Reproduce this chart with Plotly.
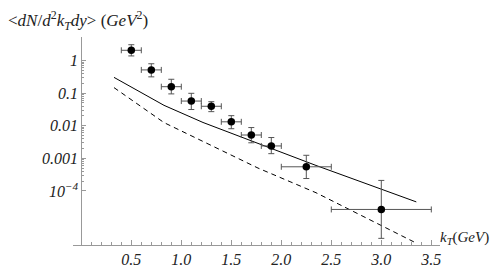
import plotly.graph_objects as go

# Data points
kt = [0.5, 0.7, 0.9, 1.1, 1.3, 1.5, 1.7, 1.9, 2.25, 3.0]
kt_err = [0.1, 0.1, 0.1, 0.1, 0.1, 0.1, 0.1, 0.1, 0.25, 0.5]
dn = [2.07, 0.517, 0.158, 0.0573, 0.0396, 0.0132, 0.0052, 0.0024, 0.00055, 2.7e-5]
dn_hi = [3.07, 0.80, 0.267, 0.099, 0.0548, 0.0204, 0.0088, 0.00435, 0.00124, 2.1e-4]
dn_lo = [1.39, 0.317, 0.095, 0.0315, 0.0271, 0.0081, 0.0030, 0.00139, 0.00024, 3.5e-6]

# Theory curves
curve_kt = [0.327, 0.827, 1.217, 1.767, 2.347, 3.35]
solid_vals = [0.305, 0.0423, 0.0126, 0.00283, 0.000605, 4.6e-5]
dashed_vals = [0.148, 0.0125, 0.0033, 0.000503, 8.8e-5, 2.5e-6]

# Tick labels
x_ticks = [0.5, 1.0, 1.5, 2.0, 2.5, 3.0, 3.5]
x_ticktext = ["<i>0.5</i>", "<i>1.0</i>", "<i>1.5</i>", "<i>2.0</i>", "<i>2.5</i>", "<i>3.0</i>", "<i>3.5</i>"]
y_ticks = [1e-4, 1e-3, 1e-2, 1e-1, 1]
y_ticktext = ["<i>10<sup>\u22124</sup></i>", "<i>0.001</i>", "<i>0.01</i>", "<i>0.1</i>", "<i>1</i>"]

err_plus = [h - v for h, v in zip(dn_hi, dn)]
err_minus = [v - l for v, l in zip(dn, dn_lo)]

y_minor = [m * 10.0 ** e for e in range(-4, 0) for m in range(2, 10)]
x_minor = [round(0.1 * i, 1) for i in range(0, 36)]

serif = "Liberation Serif"
fig = go.Figure()
fig.add_trace(go.Scatter(x=curve_kt, y=solid_vals, mode="lines",
                         line=dict(color="black", width=1), showlegend=False))
fig.add_trace(go.Scatter(x=curve_kt, y=dashed_vals, mode="lines",
                         line=dict(color="black", width=1, dash="5px,4px"), showlegend=False))
fig.add_trace(go.Scatter(
    x=kt, y=dn, mode="markers",
    marker=dict(color="black", size=7.5),
    error_y=dict(type="data", symmetric=False, array=err_plus, arrayminus=err_minus,
                 color="#555555", thickness=1, width=3),
    error_x=dict(type="data", array=kt_err, color="#555555", thickness=1, width=3),
    showlegend=False))

xmin, xmax = -0.083, 3.587
PW, PH = 367, 223
fig.update_layout(
    width=501, height=272,
    margin=dict(l=65, r=69, t=29, b=20),
    paper_bgcolor="white", plot_bgcolor="white",
    font=dict(family=serif, size=16, color="#222222"),
    xaxis=dict(range=[xmin, xmax], showgrid=False, zeroline=False,
               showline=True, linecolor="#999999", linewidth=1,
               tickmode="array", tickvals=x_ticks, ticktext=x_ticktext,
               ticks="inside", ticklen=5, tickcolor="#999999",
               tickfont=dict(family=serif, size=16),
               minor=dict(tickvals=x_minor, ticks="inside", ticklen=3,
                          tickcolor="#999999", showgrid=False)),
    yaxis=dict(type="log", range=[-5.66, 0.724], showgrid=False, zeroline=False,
               anchor="free", position=(0 - xmin) / (xmax - xmin),
               showline=True, linecolor="#999999", linewidth=1,
               tickmode="array", tickvals=y_ticks, ticktext=y_ticktext,
               ticks="inside", ticklen=4, tickcolor="#999999",
               tickfont=dict(family=serif, size=16),
               minor=dict(tickvals=y_minor, ticks="inside", ticklen=2,
                          tickcolor="#999999", showgrid=False)),
    annotations=[
        dict(text="&lt;<i>dN</i>/<i>d</i><sup>2</sup><i>k</i><sub><i>T</i></sub><i>dy</i>&gt; (<i>GeV</i><sup>2</sup>)",
             xref="paper", yref="paper", x=(-2 - 65) / PW, y=(252 - 11) / PH,
             xanchor="left", yanchor="middle", showarrow=False,
             font=dict(family=serif, size=17, color="#222222")),
        dict(text="<i>k</i><sub><i>T</i></sub>(<i>GeV</i>)",
             xref="paper", yref="paper", x=(430 - 65) / PW, y=(252 - 244) / PH,
             xanchor="left", yanchor="middle", showarrow=False,
             font=dict(family=serif, size=15, color="#222222")),
    ],
)
fig.write_html("out.html")
